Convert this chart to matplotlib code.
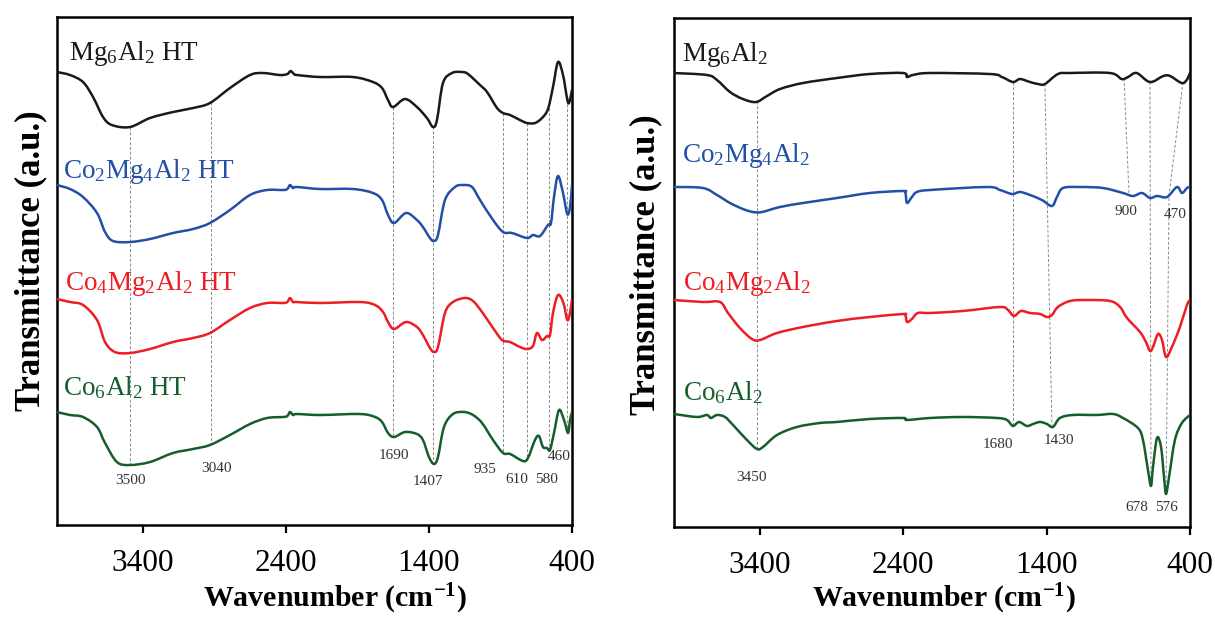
import matplotlib
matplotlib.use("Agg")
import matplotlib.pyplot as plt
import numpy as np
from matplotlib.path import Path
from matplotlib.patches import PathPatch

plt.rcParams['font.family'] = ['Liberation Serif', 'DejaVu Serif']
plt.rcParams['mathtext.fontset'] = 'custom'
plt.rcParams['mathtext.rm'] = 'Liberation Serif'
plt.rcParams['mathtext.it'] = 'Liberation Serif:italic'
plt.rcParams['mathtext.bf'] = 'Liberation Serif:bold'

# ---- left panel: HT samples (wavenumber cm-1, transmittance a.u.) ----
ht_mg6_wn = [4000, 3909, 3818, 3748, 3678, 3616, 3490, 3350, 3189, 3049, 2931, 2791, 2651, 2560,
             2441, 2390, 2367, 2343, 2322, 2162, 1931, 1791, 1728, 1686, 1651, 1567, 1484, 1414,
             1372, 1344, 1302, 1239, 1169, 1127, 1043, 994, 924, 882, 833, 764, 715, 659, 610,
             568, 533, 498, 463, 435, 421, 400]
ht_mg6 = [45.3, 45.0, 44.3, 42.8, 40.8, 40.0, 39.8, 40.7, 41.3, 41.7, 42.2, 43.7, 45.0, 45.2,
          45.0, 45.1, 45.4, 45.1, 45.0, 44.8, 44.8, 44.3, 43.7, 42.5, 41.8, 42.6, 41.8, 40.7,
          39.8, 40.5, 44.2, 45.2, 45.3, 45.1, 44.0, 43.3, 41.7, 41.2, 41.0, 40.5, 40.2, 40.2, 40.7,
          41.6, 43.8, 46.3, 45.0, 42.7, 42.2, 43.5]

ht_co2_wn = [4000, 3909, 3818, 3720, 3664, 3608, 3490, 3350, 3189, 3049, 2931, 2791, 2651, 2532,
             2420, 2390, 2371, 2350, 2322, 2162, 1931, 1791, 1728, 1686, 1644, 1560, 1484, 1442,
             1393, 1365, 1337, 1288, 1218, 1162, 1099, 1043, 952, 882, 819, 715, 673, 624, 568,
             547, 526, 498, 463, 433, 414, 400]
ht_co2 = [34.0, 33.6, 32.8, 31.2, 29.3, 28.4, 28.3, 28.6, 29.2, 29.6, 30.2, 31.5, 33.0, 33.5,
          33.5, 33.6, 34.0, 33.7, 33.8, 33.6, 33.6, 33.2, 32.5, 31.0, 30.2, 31.2, 30.5, 29.8,
          28.7, 28.4, 29.0, 32.5, 33.8, 34.0, 33.8, 32.5, 30.5, 29.3, 29.2, 28.7, 29.0, 28.9, 30.0,
          30.2, 32.8, 34.9, 33.2, 31.1, 31.8, 34.0]

ht_co4_wn = [4000, 3909, 3818, 3720, 3664, 3595, 3490, 3350, 3189, 3049, 2931, 2791, 2651, 2532,
             2420, 2390, 2371, 2350, 2322, 2162, 1882, 1777, 1721, 1686, 1644, 1560, 1484, 1442,
             1393, 1365, 1337, 1288, 1232, 1148, 1092, 1029, 952, 889, 833, 764, 715, 673, 645,
             610, 575, 554, 533, 498, 460, 433, 414, 400]
ht_co4 = [22.6, 22.3, 22.0, 20.5, 18.3, 17.3, 17.2, 17.6, 18.3, 18.7, 19.2, 20.5, 21.7, 22.2,
          22.2, 22.3, 22.7, 22.3, 22.3, 22.2, 22.3, 22.0, 21.3, 20.3, 19.6, 20.3, 19.8, 19.0,
          17.7, 17.3, 17.8, 21.2, 22.3, 22.7, 22.4, 21.3, 19.7, 18.5, 18.3, 17.8, 17.6, 17.9, 19.2,
          18.5, 18.9, 19.0, 21.2, 23.0, 22.2, 20.5, 21.2, 22.6]

ht_co6_wn = [4000, 3909, 3818, 3720, 3664, 3581, 3490, 3350, 3189, 3049, 2931, 2791, 2651, 2532,
             2420, 2390, 2371, 2350, 2322, 2162, 1882, 1777, 1728, 1686, 1644, 1567, 1484, 1442,
             1400, 1365, 1337, 1295, 1232, 1155, 1092, 1029, 952, 882, 833, 743, 708, 659, 631,
             603, 575, 554, 526, 491, 456, 428, 414, 400]
ht_co6 = [11.3, 11.0, 10.8, 9.8, 8.2, 6.3, 6.0, 6.3, 7.2, 7.6, 8.0, 9.0, 10.1, 10.7,
          10.8, 10.9, 11.3, 11.0, 11.1, 11.0, 11.1, 10.8, 10.3, 9.2, 8.8, 9.3, 9.1, 8.5,
          6.8, 6.1, 6.8, 9.8, 11.1, 11.3, 11.0, 10.2, 8.5, 7.2, 7.1, 6.4, 6.7, 8.5, 8.9,
          7.8, 7.7, 7.5, 9.2, 11.5, 10.5, 9.2, 10.5, 11.3]

# ---- right panel: calcined samples ----
mg6_wn = [4000, 3770, 3700, 3609, 3519, 3428, 3351, 3260, 3100, 2863, 2633, 2402, 2374, 2333,
          2214, 1795, 1712, 1635, 1586, 1516, 1460, 1412, 1321, 1237, 958, 877, 832, 772, 679,
          586, 539, 458, 423, 400]
mg6 = [45.4, 45.2, 44.7, 43.5, 42.8, 42.5, 43.1, 43.8, 44.4, 44.9, 45.3, 45.4, 45.0, 45.2,
       45.4, 45.3, 45.0, 44.5, 44.8, 44.5, 44.3, 44.3, 45.3, 45.4, 45.4, 44.8, 45.0, 45.4, 44.5,
       45.1, 45.1, 44.4, 44.7, 45.4]

co2_wn = [4000, 3798, 3700, 3609, 3519, 3449, 3386, 3260, 3100, 2863, 2633, 2402, 2385, 2374,
          2340, 2305, 2214, 1816, 1725, 1642, 1586, 1516, 1433, 1363, 1328, 1286, 1167, 1007,
          867, 798, 735, 679, 630, 560, 491, 456, 421, 400]
co2 = [34.0, 33.9, 33.2, 32.4, 31.8, 31.5, 31.5, 32.0, 32.4, 32.9, 33.4, 33.6, 33.4, 32.4,
       33.0, 33.5, 33.7, 34.0, 33.7, 33.3, 33.5, 33.2, 32.7, 32.1, 33.0, 33.9, 34.0, 33.9,
       33.4, 33.1, 33.4, 32.9, 33.1, 33.0, 34.0, 33.4, 33.9, 34.0]

co4_wn = [4000, 3798, 3679, 3623, 3540, 3456, 3400, 3281, 3100, 2863, 2633, 2402, 2385, 2374,
          2340, 2298, 2214, 1984, 1725, 1670, 1628, 1579, 1516, 1446, 1398, 1363, 1321, 1237,
          1119, 958, 888, 839, 749, 707, 679, 658, 623, 595, 567, 526, 470, 421, 400]
co4 = [22.7, 22.5, 22.5, 21.4, 19.9, 18.8, 18.7, 19.4, 20.0, 20.6, 21.0, 21.3, 21.2, 20.5,
       20.8, 21.4, 21.4, 21.6, 22.0, 21.7, 21.1, 21.6, 21.4, 21.3, 21.0, 21.2, 22.0, 22.6,
       22.7, 22.6, 22.0, 20.9, 19.5, 18.5, 17.6, 18.0, 19.3, 18.7, 17.0, 18.0, 20.0, 22.2, 22.7]

co6_wn = [4000, 3840, 3770, 3742, 3700, 3644, 3588, 3491, 3421, 3379, 3281, 3142, 2981, 2863,
          2633, 2402, 2374, 2214, 1984, 1746, 1677, 1635, 1593, 1537, 1495, 1446, 1398, 1356,
          1307, 1216, 1049, 937, 867, 763, 728, 693, 672, 658, 630, 602, 581, 567, 546, 505,
          456, 400]
co6 = [11.3, 11.0, 11.2, 10.9, 11.2, 11.0, 10.2, 8.7, 7.8, 8.0, 9.2, 10.0, 10.4, 10.5,
       10.8, 10.9, 10.7, 10.9, 11.0, 10.9, 10.7, 10.1, 10.5, 10.1, 10.3, 10.5, 10.3, 10.0,
       10.9, 11.2, 11.2, 11.3, 10.9, 9.9, 8.7, 5.7, 4.1, 6.0, 8.9, 8.0, 5.0, 3.3, 5.0, 8.7,
       10.4, 11.2]

names_ht = [r'Mg$_6$Al$_2$ HT', r'Co$_2$Mg$_4$Al$_2$ HT', r'Co$_4$Mg$_2$Al$_2$ HT', r'Co$_6$Al$_2$ HT']
names = [r'Mg$_6$Al$_2$', r'Co$_2$Mg$_4$Al$_2$', r'Co$_4$Mg$_2$Al$_2$', r'Co$_6$Al$_2$']
colors = ['#1a1a1a', '#2150a6', '#ee1c25', '#155e2c']

# band markers: left panel lines are vertical (top curve -> bottom curve)
left_band_wn = [3490, 2926, 1650, 1375, 880, 717, 559, 433]
left_band_lbl = ['3500', '3040', '1690', '1407', '935', '610', '580', '460']
# right panel lines: wn on the top curve, optional bend on curve 1, wn on the end curve
right_band_top = [3421, 1635, 1412, 860, 679, 449]
right_band_mid = [None, None, None, None, None, 546]
right_band_bot = [3421, 1635, 1363, 825, 672, 567]
right_band_end = [3, 3, 3, 1, 3, 3]
right_band_lbl = ['3450', '1680', '1430', '900', '678', '576', '470']


def val_at(wn_lst, y_lst, x):
    return np.interp(x, wn_lst[::-1], y_lst[::-1])


def smooth_line(ax, wn, y, color):
    """draw the measured points as one smooth bezier path (catmull-rom style)"""
    pts = np.column_stack([wn, y]).astype(float)
    n = len(pts)
    verts = [pts[0]]
    codes = [Path.MOVETO]
    for i in range(n - 1):
        p0 = pts[max(i - 1, 0)]
        p1 = pts[i]
        p2 = pts[i + 1]
        p3 = pts[min(i + 2, n - 1)]
        verts += [p1 + (p2 - p0) / 6.0, p2 - (p3 - p1) / 6.0, p2]
        codes += [Path.CURVE4] * 3
    patch = PathPatch(Path(verts, codes), facecolor='none', edgecolor=color, lw=1.8,
                      joinstyle='round', capstyle='round', zorder=3)
    ax.add_patch(patch)


def style_ax(ax, ymax):
    ax.set_xlim(4000, 400)
    ax.set_ylim(0, ymax)
    ax.set_xticks([3400, 2400, 1400, 400])
    ax.set_yticks([])
    ax.tick_params(axis='x', direction='out', length=6, width=1.6, labelsize=22.5, pad=11)
    for sp in ax.spines.values():
        sp.set_linewidth(1.8)
    ax.set_xlabel(r'Wavenumber (cm$^{\mathbf{-1}}$)', fontsize=21.5, fontweight='bold',
                  va='baseline')
    ax.set_ylabel('Transmittance (a.u.)', fontsize=25, fontweight='bold')


fig = plt.figure(figsize=(12.15, 6.17), dpi=100)
ax1 = fig.add_axes([0.0469, 0.1491, 0.4239, 0.8233])
ax2 = fig.add_axes([0.5547, 0.1459, 0.4247, 0.8249])

# left panel
left_series = [(ht_mg6_wn, ht_mg6), (ht_co2_wn, ht_co2), (ht_co4_wn, ht_co4), (ht_co6_wn, ht_co6)]
for (wn, y), c in zip(left_series, colors):
    smooth_line(ax1, wn, y, c)
for w in left_band_wn:
    y_top = val_at(*left_series[0], w)
    y_bot = val_at(*left_series[3], w)
    ax1.plot([w, w], [y_top, y_bot], color='#8a8a8a', lw=0.7, ls=(0, (3, 2)), zorder=1)

left_name_pos = [(3916, 46.5), (3956, 34.7), (3944, 23.5), (3960, 13.0)]
for (x, y), s, c in zip(left_name_pos, names_ht, colors):
    ax1.text(x, y, s, color=c, fontsize=19.5, ha='left', va='baseline')

left_lbl_pos = [(3490, 4.5), (2882, 5.7), (1644, 7.0), (1407, 4.4), (1008, 5.6), (784, 4.6),
                (575, 4.6), (491, 6.9)]
for (x, y), s in zip(left_lbl_pos, left_band_lbl):
    ax1.text(x, y, s, fontsize=11, color='#333333', ha='center', va='center', zorder=4)

style_ax(ax1, 50.8)
ax1.xaxis.set_label_coords(0.54, -0.161)
ax1.yaxis.set_label_coords(-0.019, 0.52)

# right panel
right_series = [(mg6_wn, mg6), (co2_wn, co2), (co4_wn, co4), (co6_wn, co6)]
for (wn, y), c in zip(right_series, colors):
    smooth_line(ax2, wn, y, c)
for wt, wm, wb, ie in zip(right_band_top, right_band_mid, right_band_bot, right_band_end):
    xs = [wt]
    ys = [val_at(*right_series[0], wt)]
    if wm is not None:
        xs.append(wm)
        ys.append(val_at(*right_series[1], wm))
    xs.append(wb)
    ys.append(val_at(*right_series[ie], wb))
    ax2.plot(xs, ys, color='#8a8a8a', lw=0.7, ls=(0, (3, 2)), zorder=1)

right_name_pos = [(3946, 46.6), (3946, 36.5), (3940, 23.7), (3940, 12.7)]
for (x, y), s, c in zip(right_name_pos, names, colors):
    ax2.text(x, y, s, color=c, fontsize=19.5, ha='left', va='baseline')

right_lbl_pos = [(3456, 4.9), (1739, 8.2), (1314, 8.6), (846, 31.6), (770, 1.9), (567, 1.9),
                 (504, 31.3)]
for (x, y), s in zip(right_lbl_pos, right_band_lbl):
    ax2.text(x, y, s, fontsize=11, color='#333333', ha='center', va='center', zorder=4)

style_ax(ax2, 50.9)
ax2.xaxis.set_label_coords(0.523, -0.157)
ax2.yaxis.set_label_coords(-0.023, 0.515)

fig.savefig('out.png', dpi=100)
